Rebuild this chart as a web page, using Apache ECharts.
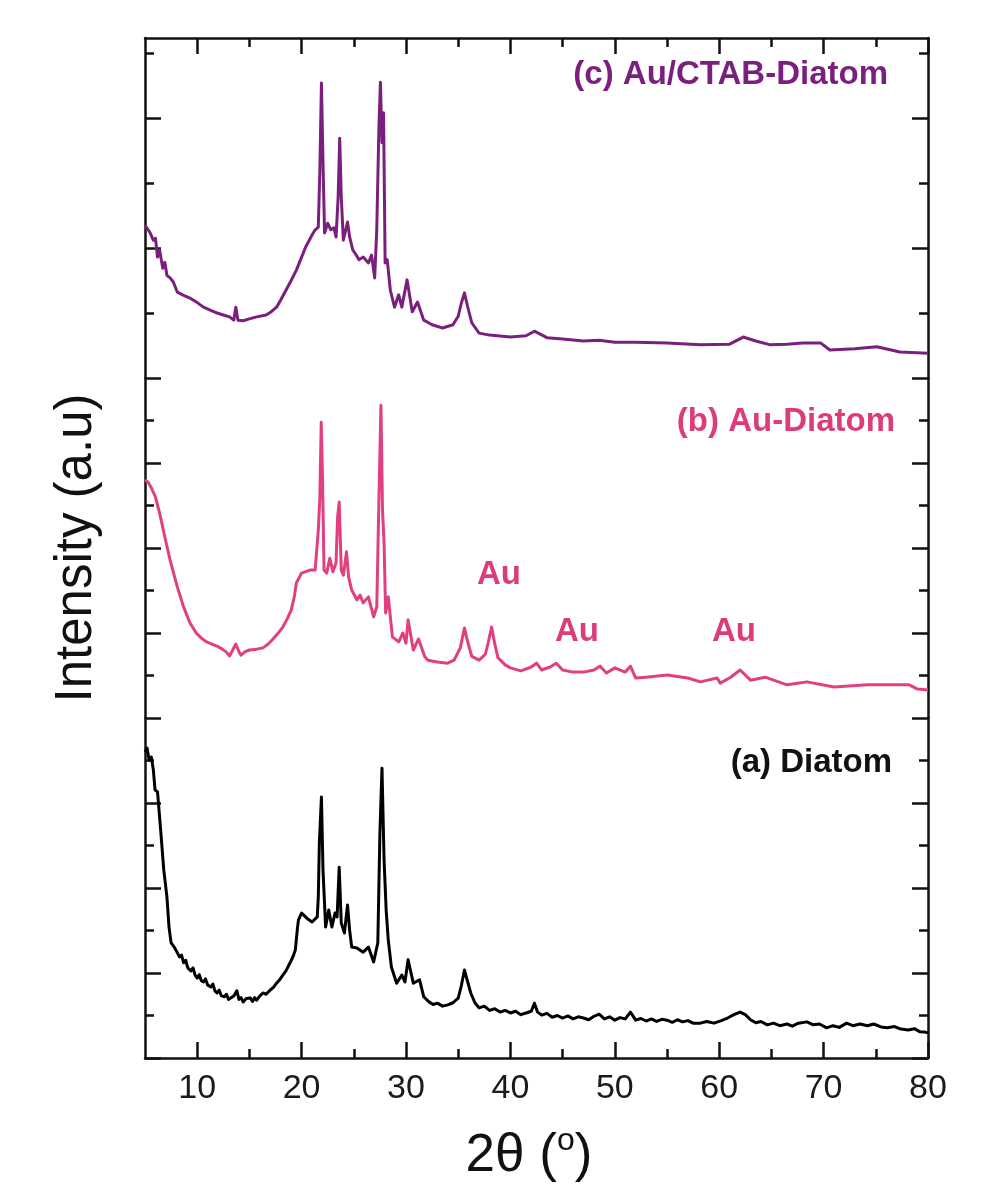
<!DOCTYPE html>
<html>
<head>
<meta charset="utf-8">
<title>XRD - Diatom</title>
<script src="https://cdn.jsdelivr.net/npm/echarts@6/dist/echarts.min.js"></script>
<style>
  html, body { margin: 0; padding: 0; background: #fff; }
  #main { width: 986px; height: 1190px; }
</style>
</head>
<body>
<div id="main"></div>
<script>
// 2θ tick positions
var xMajor = [10, 20, 30, 40, 50, 60, 70, 80];
var xMinor = [15, 25, 35, 45, 55, 65, 75];

// intensity ticks (arbitrary units, per panel)
var topMajor = [0, 2, 4];
var topMinor = [1, 3, 5];
var panelMajor = [0, 2, 4, 6, 8];
var panelMinor = [1, 3, 5, 7];

// (c) Au/CTAB-Diatom  [2θ, intensity]
var ctabDiatom = [
  [5.0, 2.35], [5.3, 2.28], [5.5, 2.23], [5.8, 2.12], [6.0, 2.15], [6.2, 1.86], [6.4, 1.97], [6.7, 1.69],
  [6.9, 1.78], [7.1, 1.58], [7.4, 1.54], [7.7, 1.48], [8.1, 1.32], [8.7, 1.27], [9.3, 1.23], [10.0, 1.16],
  [10.6, 1.09], [11.3, 1.04], [11.9, 1.00], [12.5, 0.97], [13.1, 0.94], [13.5, 0.89], [13.7, 1.09],
  [13.9, 0.89], [14.4, 0.88], [15.0, 0.91], [15.7, 0.94], [16.6, 0.97], [17.1, 1.02], [17.6, 1.09],
  [18.0, 1.20], [18.5, 1.35], [19.0, 1.50], [19.5, 1.66], [20.0, 1.86], [20.4, 2.02], [21.0, 2.20],
  [21.3, 2.28], [21.6, 2.32], [21.75, 3.20], [21.9, 4.54], [22.05, 3.31], [22.2, 2.23], [22.5, 2.38],
  [22.8, 2.28], [23.1, 2.31], [23.3, 2.17], [23.5, 2.78], [23.65, 3.69], [23.8, 2.78], [24.0, 2.12],
  [24.4, 2.40], [24.6, 2.17], [24.9, 1.97], [25.2, 1.90], [25.5, 1.82], [25.9, 1.86], [26.4, 1.77],
  [26.7, 1.89], [27.0, 1.54], [27.2, 2.28], [27.4, 3.82], [27.55, 4.55], [27.7, 3.62], [27.85, 4.08],
  [28.0, 1.77], [28.2, 1.82], [28.5, 1.35], [28.9, 1.09], [29.3, 1.28], [29.6, 1.09], [30.1, 1.51],
  [30.6, 1.02], [31.1, 1.17], [31.7, 0.89], [32.5, 0.82], [33.5, 0.77], [34.5, 0.82], [35.0, 0.95],
  [35.3, 1.15], [35.6, 1.31], [35.9, 1.10], [36.3, 0.85], [37.0, 0.69], [38.0, 0.66], [40.0, 0.63],
  [41.5, 0.65], [42.3, 0.72], [43.5, 0.62], [45.0, 0.60], [47.0, 0.57], [48.5, 0.58], [50.0, 0.55],
  [52.0, 0.55], [55.0, 0.54], [58.2, 0.51], [61.0, 0.52], [62.3, 0.63], [63.5, 0.57], [64.9, 0.51],
  [66.5, 0.52], [68.0, 0.54], [69.7, 0.54], [70.6, 0.43], [73.0, 0.45], [75.1, 0.48], [77.3, 0.40],
  [80.0, 0.38]
];

// (b) Au-Diatom
var auDiatom = [
  [5.0, 5.60], [5.3, 5.55], [5.6, 5.42], [6.0, 5.20], [6.4, 4.82], [6.9, 4.26], [7.4, 3.72], [8.1, 3.08],
  [8.7, 2.61], [9.3, 2.24], [9.9, 2.00], [10.4, 1.88], [10.9, 1.79], [11.4, 1.74], [11.9, 1.69],
  [12.4, 1.62], [12.8, 1.55], [13.1, 1.46], [13.4, 1.60], [13.7, 1.74], [14.0, 1.56], [14.2, 1.48],
  [14.6, 1.56], [15.0, 1.60], [15.7, 1.62], [16.3, 1.65], [16.8, 1.74], [17.2, 1.84], [17.7, 1.98],
  [18.2, 2.14], [18.6, 2.32], [19.0, 2.54], [19.3, 2.85], [19.5, 3.18], [20.0, 3.41], [20.8, 3.48],
  [21.3, 3.48], [21.6, 4.42], [21.75, 5.20], [21.88, 6.96], [22.0, 5.67], [22.15, 3.48], [22.4, 3.41],
  [22.7, 3.76], [23.0, 3.44], [23.3, 3.65], [23.45, 4.73], [23.6, 5.08], [23.8, 3.48], [24.0, 3.36],
  [24.3, 3.91], [24.5, 3.32], [24.8, 3.01], [25.3, 2.78], [25.6, 2.89], [25.9, 2.71], [26.4, 2.85],
  [26.9, 2.38], [27.2, 2.61], [27.4, 5.06], [27.6, 7.36], [27.75, 4.89], [27.9, 4.12], [28.05, 2.47],
  [28.3, 2.85], [28.7, 1.91], [29.3, 1.79], [29.7, 2.00], [30.0, 1.76], [30.2, 2.31], [30.7, 1.60],
  [31.2, 1.86], [31.8, 1.44], [32.1, 1.36], [33.0, 1.32], [34.0, 1.29], [34.6, 1.36], [35.2, 1.65],
  [35.6, 2.12], [35.9, 1.80], [36.3, 1.45], [37.0, 1.36], [37.6, 1.50], [37.9, 1.80], [38.2, 2.14],
  [38.5, 1.75], [38.8, 1.42], [39.5, 1.25], [40.0, 1.18], [41.0, 1.11], [42.0, 1.20], [42.5, 1.29],
  [43.0, 1.13], [43.8, 1.20], [44.4, 1.29], [45.0, 1.13], [46.0, 1.08], [47.0, 1.08], [48.0, 1.13],
  [48.6, 1.22], [49.2, 1.06], [50.0, 1.18], [51.0, 1.08], [51.5, 1.22], [52.0, 0.94], [53.0, 0.96],
  [55.0, 1.01], [57.0, 0.94], [58.2, 0.85], [59.8, 0.94], [60.1, 0.82], [61.1, 0.96], [62.0, 1.13],
  [63.0, 0.89], [64.4, 0.96], [66.5, 0.78], [68.4, 0.85], [71.0, 0.73], [74.2, 0.78], [78.2, 0.78],
  [79.0, 0.68], [80.0, 0.66]
];

// (a) Diatom
var diatom = [
  [5.0, 7.20], [5.2, 7.29], [5.4, 7.01], [5.6, 7.08], [5.8, 6.78], [5.96, 6.31], [6.2, 6.26],
  [6.5, 5.36], [6.8, 4.42], [7.1, 3.79], [7.3, 3.08], [7.5, 2.71], [7.8, 2.61], [8.0, 2.52],
  [8.3, 2.38], [8.5, 2.42], [8.7, 2.24], [8.9, 2.30], [9.1, 2.12], [9.4, 2.05], [9.6, 2.12],
  [9.8, 1.95], [10.0, 1.88], [10.2, 1.96], [10.4, 1.82], [10.6, 1.79], [10.8, 1.86], [11.0, 1.72],
  [11.3, 1.67], [11.5, 1.74], [11.7, 1.58], [11.9, 1.53], [12.1, 1.60], [12.3, 1.47], [12.6, 1.44],
  [12.8, 1.50], [13.0, 1.38], [13.2, 1.41], [13.5, 1.46], [13.8, 1.58], [14.0, 1.38], [14.2, 1.42],
  [14.4, 1.32], [14.7, 1.40], [15.1, 1.41], [15.3, 1.33], [15.5, 1.42], [15.7, 1.36], [16.0, 1.46],
  [16.3, 1.53], [16.6, 1.50], [17.0, 1.60], [17.3, 1.66], [17.6, 1.76], [17.9, 1.84], [18.2, 1.95],
  [18.5, 2.05], [18.9, 2.24], [19.2, 2.40], [19.4, 2.54], [19.6, 3.05], [19.7, 3.25], [20.0, 3.41],
  [20.5, 3.29], [21.0, 3.20], [21.5, 3.32], [21.6, 3.79], [21.7, 5.06], [21.9, 6.14], [22.05, 4.42],
  [22.3, 3.08], [22.6, 3.48], [22.9, 3.08], [23.2, 3.41], [23.4, 3.32], [23.6, 4.49], [23.8, 3.18],
  [24.1, 2.94], [24.4, 3.60], [24.6, 3.01], [24.8, 2.61], [25.3, 2.59], [25.9, 2.49], [26.4, 2.61],
  [26.9, 2.26], [27.3, 2.71], [27.5, 5.29], [27.7, 6.82], [27.9, 4.66], [28.1, 3.48], [28.3, 2.78],
  [28.6, 2.14], [29.1, 1.76], [29.6, 1.95], [29.9, 1.79], [30.2, 2.31], [30.7, 1.76], [31.3, 1.84],
  [31.7, 1.44], [32.2, 1.32], [32.6, 1.26], [33.0, 1.29], [33.5, 1.22], [34.0, 1.25], [34.5, 1.30],
  [35.0, 1.41], [35.3, 1.70], [35.6, 2.07], [35.9, 1.80], [36.2, 1.53], [36.6, 1.30], [37.0, 1.18],
  [37.5, 1.22], [38.0, 1.12], [38.5, 1.16], [39.0, 1.08], [39.5, 1.12], [40.0, 1.06], [40.5, 1.10],
  [41.0, 1.02], [41.5, 1.06], [42.0, 1.10], [42.3, 1.29], [42.6, 1.08], [43.0, 1.01], [43.5, 1.05],
  [44.0, 0.96], [44.5, 1.00], [45.0, 0.94], [45.5, 0.99], [46.0, 0.92], [46.5, 0.97], [47.0, 0.94],
  [47.5, 0.90], [48.0, 0.98], [48.5, 1.03], [49.0, 0.92], [49.5, 0.97], [50.0, 0.89], [50.5, 0.95],
  [51.0, 0.92], [51.5, 1.08], [52.0, 0.89], [52.5, 0.93], [53.0, 0.87], [53.5, 0.92], [54.0, 0.86],
  [54.5, 0.91], [55.0, 0.89], [55.5, 0.84], [56.0, 0.90], [56.5, 0.85], [57.0, 0.88], [57.5, 0.82],
  [58.2, 0.82], [58.8, 0.86], [59.5, 0.82], [60.2, 0.88], [60.8, 0.94], [61.4, 1.02], [62.0, 1.08],
  [62.5, 1.02], [63.0, 0.90], [63.5, 0.83], [64.0, 0.86], [64.6, 0.78], [65.2, 0.82], [65.8, 0.76],
  [66.5, 0.80], [67.0, 0.75], [67.6, 0.82], [68.4, 0.85], [69.0, 0.78], [69.6, 0.80], [70.3, 0.71],
  [70.9, 0.76], [71.5, 0.72], [72.2, 0.82], [72.8, 0.76], [73.5, 0.80], [74.2, 0.76], [74.8, 0.80],
  [75.5, 0.73], [76.1, 0.71], [76.8, 0.74], [77.4, 0.68], [78.1, 0.66], [78.7, 0.69], [79.2, 0.62],
  [79.7, 0.61], [80.0, 0.59]
];

var chart = echarts.init(document.getElementById('main'), null, { renderer: 'canvas' });

var FONT = '"Liberation Sans", Arial, Helvetica, sans-serif';
var INK = '#111';

// three stacked panels sharing the 2θ axis
var panels = [
  { top: 38, yMax: 340 / 65, major: topMajor, minor: topMinor },
  { top: 378, yMax: 8, major: panelMajor, minor: panelMinor },
  { top: 718, yMax: 8, major: panelMajor, minor: panelMinor }
];

function xAxisDef(grid, pos, ticks, len, opts) {
  opts = opts || {};
  return {
    type: 'value', gridIndex: grid, position: pos, min: 5, max: 80,
    show: opts.hidden ? false : true,
    axisLine: { show: !!opts.line, onZero: false, lineStyle: { color: INK, width: 2.5 } },
    axisTick: { show: !!ticks, inside: true, length: len, customValues: ticks || [],
      lineStyle: { color: INK, width: 2.5 } },
    axisLabel: { show: !!opts.label, customValues: ticks || [], margin: 14,
      color: '#1a1a1a', fontSize: 34, fontFamily: FONT },
    splitLine: { show: false }
  };
}

function yAxisDef(grid, pos, yMax, ticks, len, line) {
  return {
    type: 'value', gridIndex: grid, position: pos, min: 0, max: yMax,
    axisLine: { show: line, onZero: false, lineStyle: { color: INK, width: 2.5 } },
    axisTick: { show: true, inside: true, length: len, customValues: ticks,
      lineStyle: { color: INK, width: 2.5 } },
    axisLabel: { show: false },
    splitLine: { show: false }
  };
}

var grids = [], xAxes = [], yAxes = [];
panels.forEach(function (p, i) {
  grids.push({ left: 145, right: 58, top: p.top, height: 340, containLabel: false });
  // axis used by the series of this panel
  xAxes.push(xAxisDef(i, 'bottom', null, 0, { hidden: true }));
  yAxes.push(yAxisDef(i, 'left', p.yMax, p.major, 16, true));
  yAxes.push(yAxisDef(i, 'left', p.yMax, p.minor, 9, false));
  yAxes.push(yAxisDef(i, 'right', p.yMax, p.major, 16, true));
  yAxes.push(yAxisDef(i, 'right', p.yMax, p.minor, 9, false));
});
// frame top
xAxes.push(xAxisDef(0, 'top', xMajor, 16, { line: true }));
xAxes.push(xAxisDef(0, 'top', xMinor, 9, {}));
// frame bottom with labels
xAxes.push(xAxisDef(2, 'bottom', xMajor, 16, { line: true, label: true }));
xAxes.push(xAxisDef(2, 'bottom', xMinor, 9, {}));

function lineSeries(name, data, panel, color, width) {
  return {
    name: name, type: 'line', data: data,
    xAxisIndex: panel, yAxisIndex: panel * 4,
    showSymbol: false, symbol: 'none', smooth: false,
    lineStyle: { color: color, width: width, join: 'round' },
    itemStyle: { color: color },
    silent: true
  };
}

var labelFont = 'bold 33px ' + FONT;

chart.setOption({
  animation: false,
  backgroundColor: '#fff',
  grid: grids,
  xAxis: xAxes,
  yAxis: yAxes,
  series: [
    lineSeries('(c) Au/CTAB-Diatom', ctabDiatom, 0, '#7b1f7e', 3),
    lineSeries('(b) Au-Diatom', auDiatom, 1, '#e0407f', 3),
    lineSeries('(a) Diatom', diatom, 2, '#000', 3)
  ],
  graphic: [
    { type: 'text', x: 888, y: 75, style: { text: '(c) Au/CTAB-Diatom', font: labelFont, fill: '#7b1f7e', align: 'right', verticalAlign: 'middle' } },
    { type: 'text', x: 895, y: 422, style: { text: '(b) Au-Diatom', font: labelFont, fill: '#dc3c7c', align: 'right', verticalAlign: 'middle' } },
    { type: 'text', x: 892, y: 763, style: { text: '(a) Diatom', font: labelFont, fill: '#111', align: 'right', verticalAlign: 'middle' } },
    { type: 'text', x: 499, y: 575, style: { text: 'Au', font: labelFont, fill: '#dc3c7c', align: 'center', verticalAlign: 'middle' } },
    { type: 'text', x: 577, y: 632, style: { text: 'Au', font: labelFont, fill: '#dc3c7c', align: 'center', verticalAlign: 'middle' } },
    { type: 'text', x: 734, y: 632, style: { text: 'Au', font: labelFont, fill: '#dc3c7c', align: 'center', verticalAlign: 'middle' } },
    { type: 'text', x: 77, y: 548, rotation: Math.PI / 2, style: { text: 'Intensity (a.u)', font: '51px ' + FONT, fill: '#111', align: 'center', verticalAlign: 'middle' } },
    { type: 'text', x: 529, y: 1156, style: {
        text: '{m|2θ (}{s|o}{m|)}', align: 'center', verticalAlign: 'middle',
        rich: {
          m: { fontSize: 53, fontFamily: FONT, fill: '#111', color: '#111', lineHeight: 62 },
          s: { fontSize: 32, fontFamily: FONT, fill: '#111', color: '#111', verticalAlign: 'top', lineHeight: 36 }
        }
      } }
  ]
});
</script>
</body>
</html>
